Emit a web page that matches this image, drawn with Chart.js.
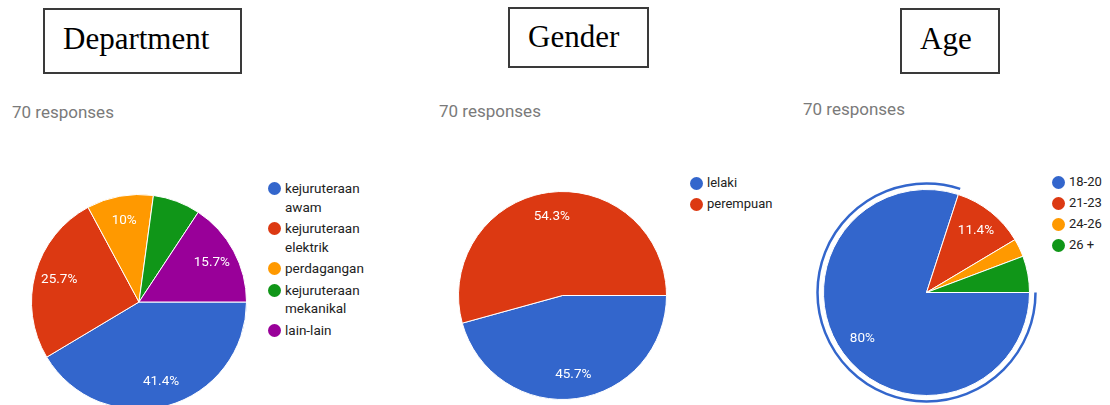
<!DOCTYPE html>
<html>
<head>
<meta charset="utf-8">
<script src="https://cdn.jsdelivr.net/npm/chart.js@4"></script>
<style>
  html, body { margin: 0; padding: 0; background: #fff; }
  body { width: 1110px; height: 405px; position: relative; overflow: hidden; }
  .box { position: absolute; border: 2px solid #3a3a3a; box-sizing: border-box; }
  .ttl { position: absolute; font-family: "Liberation Serif", serif; font-size: 31px; line-height: 31px; color: #000; white-space: nowrap; }
  .resp { position: absolute; font-family: Roboto, sans-serif; font-size: 17px; line-height: 17px; color: #7a7a7a; white-space: nowrap; }
  canvas { position: absolute; }
  .legend { position: absolute; font-family: Roboto, sans-serif; font-size: 13px; color: #222; }
  .legend .item { position: relative; padding-left: 17px; line-height: 18px; margin-bottom: 3px; }
  .legend .dot { position: absolute; left: 0; top: 3px; width: 13px; height: 13px; border-radius: 50%; }
  #deptLegend { font-size: 13.5px; }
  #deptLegend .item { line-height: 18.5px; }
</style>
</head>
<body>

<div class="box" style="left:43px;top:8px;width:199px;height:66px"></div>
<div class="ttl" style="left:63px;top:23px">Department</div>
<div class="box" style="left:508px;top:7px;width:141px;height:61px"></div>
<div class="ttl" style="left:528px;top:21px">Gender</div>
<div class="box" style="left:900px;top:8px;width:100px;height:66px"></div>
<div class="ttl" style="left:920px;top:23px">Age</div>

<div class="resp" style="left:12px;top:104px">70 responses</div>
<div class="resp" style="left:439px;top:103px">70 responses</div>
<div class="resp" style="left:803px;top:101px">70 responses</div>

<canvas id="deptChart" width="236" height="236" style="left:21px;top:184px"></canvas>
<canvas id="genderChart" width="229" height="229" style="left:448px;top:181px"></canvas>
<canvas id="ageChart" width="227" height="227" style="left:813px;top:179px"></canvas>

<div class="legend" id="deptLegend" style="left:268px;top:179px;width:102px"></div>
<div class="legend" id="genderLegend" style="left:690px;top:174px;width:100px"></div>
<div class="legend" id="ageLegend" style="left:1052px;top:173px;width:60px"></div>

<script>
var TOTAL = 70;

var deptLabels = ['kejuruteraan awam', 'kejuruteraan elektrik', 'perdagangan', 'kejuruteraan mekanikal', 'lain-lain'];
var deptCounts = [29, 18, 7, 5, 11];

var genderLabels = ['lelaki', 'perempuan'];
var genderCounts = [32, 38];

var ageLabels = ['18-20', '21-23', '24-26', '26 +'];
var ageCounts = [56, 8, 2, 4];

var COLORS = ['#3366cc', '#dc3912', '#ff9900', '#109618', '#990099'];

function pct(v) {
  var p = (v / TOTAL * 100).toFixed(1);
  if (p.slice(-2) == '.0') p = p.slice(0, -2);
  return p + '%';
}

// percentage text inside the bigger slices
var sliceLabels = {
  id: 'sliceLabels',
  afterDatasetsDraw: function(chart) {
    var ctx = chart.ctx;
    var data = chart.data.datasets[0].data;
    var arcs = chart.getDatasetMeta(0).data;
    ctx.save();
    ctx.font = '13.5px Roboto';
    ctx.fillStyle = '#fff';
    ctx.textAlign = 'center';
    ctx.textBaseline = 'middle';
    for (var i = 0; i < arcs.length; i++) {
      if (data[i] / TOTAL < 0.095) continue;
      var a = arcs[i].getProps(['x', 'y', 'startAngle', 'endAngle', 'outerRadius'], true);
      var mid = (a.startAngle + a.endAngle) / 2;
      var r = a.outerRadius * 0.77;
      ctx.fillText(pct(data[i]), a.x + Math.cos(mid) * r, a.y + Math.sin(mid) * r);
    }
    ctx.restore();
  }
};

// highlight ring round one slice
var ringPlugin = {
  id: 'ring',
  afterDatasetsDraw: function(chart, args, opts) {
    if (opts.index == null) return;
    var a = chart.getDatasetMeta(0).data[opts.index].getProps(['x', 'y', 'startAngle', 'endAngle', 'outerRadius'], true);
    var ctx = chart.ctx;
    ctx.save();
    ctx.strokeStyle = COLORS[opts.index];
    ctx.lineWidth = 2.5;
    ctx.beginPath();
    ctx.arc(a.x, a.y, a.outerRadius + 6, a.startAngle, a.endAngle);
    ctx.stroke();
    ctx.restore();
  }
};

function makePie(id, labels, counts, ringIndex) {
  return new Chart(id, {
    type: 'pie',
    data: {
      labels: labels,
      datasets: [{
        data: counts,
        backgroundColor: COLORS.slice(0, counts.length),
        borderColor: '#fff',
        borderWidth: 1,
        hoverOffset: 0,
        hoverBorderWidth: 1
      }]
    },
    options: {
      responsive: false,
      animation: false,
      rotation: 90,
      layout: { padding: 10 },
      events: [],
      plugins: {
        legend: { display: false },
        tooltip: { enabled: false },
        ring: { index: ringIndex }
      }
    },
    plugins: [sliceLabels, ringPlugin]
  });
}

function makeLegend(el, labels) {
  var box = document.getElementById(el);
  for (var i = 0; i < labels.length; i++) {
    var item = document.createElement('div');
    item.className = 'item';
    item.innerHTML = '<span class="dot" style="background:' + COLORS[i] + '"></span>' + labels[i];
    box.appendChild(item);
  }
}

makePie('deptChart', deptLabels, deptCounts, null);
makePie('genderChart', genderLabels, genderCounts, null);
makePie('ageChart', ageLabels, ageCounts, 0);

makeLegend('deptLegend', deptLabels);
makeLegend('genderLegend', genderLabels);
makeLegend('ageLegend', ageLabels);
</script>
</body>
</html>
